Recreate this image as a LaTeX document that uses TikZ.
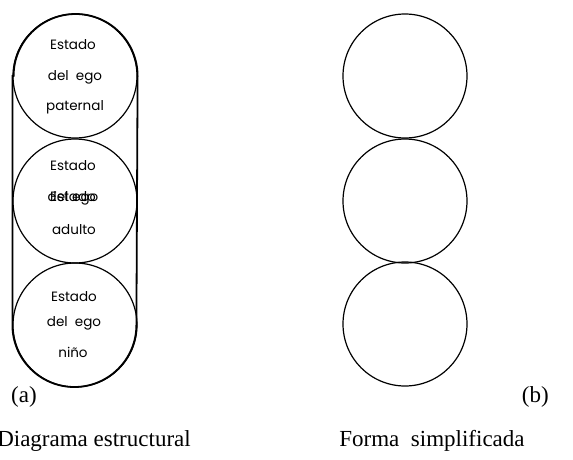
\documentclass[tikz,border=0pt]{standalone}
\usepackage{fontspec}
\setmainfont{Liberation Serif}
\newfontfamily\handfont{Poppins}
\begin{document}
\begin{tikzpicture}[x=1pt,y=-1pt,
  egocircle/.style={circle,draw,line width=1.2pt,minimum size=124pt,inner sep=0pt},
  hand/.style={font=\handfont\fontsize{13.5}{14}\selectfont,inner sep=0pt},
  captext/.style={font=\fontsize{23}{26}\selectfont,inner sep=0pt}]
\useasboundingbox (0,0) rectangle (573,459);
% left: structural diagram
\node[egocircle] (p) at (75,76) {};
\node[egocircle] (a) at (75,201) {};
\node[egocircle] (n) at (75,325) {};
\draw[line width=1.8pt] (p.west) -- (n.west) arc[start angle=180,end angle=360,radius=62pt]
  -- (p.east) arc[start angle=0,end angle=180,radius=62pt] -- cycle;
\node[hand] (p1) at (73,45) {Estado};
\node[hand] (p2) at (75,77) {del\ \ ego};
\node[hand] (p3) at (75,107) {paternal};
\node[hand] (a1) at (73,166) {Estado};
\node[hand] (a2) at (73,198) {\makebox[0pt]{Estado}\makebox[0pt]{del\ ego}};
\node[hand] (a3) at (74,230) {adulto};
\node[hand] (n1) at (74,297) {Estado};
\node[hand] (n2) at (74,323) {del\ \ ego};
\node[hand] (n3) at (73,352) {niño};
% right: simplified form
\node[egocircle] (sp) at (405,76) {};
\node[egocircle] (sa) at (405,201) {};
\node[egocircle] (sn) at (405,324) {};
% captions
\node[captext,anchor=west] (la) at (11,397) {(a)};
\node[captext,anchor=east] (lb) at (549,397) {(b)};
\node[captext] (ta) at (94,441) {Diagrama estructural};
\node[captext] (tb) at (432,441) {Forma\ \ simplificada};
\end{tikzpicture}
\end{document}
